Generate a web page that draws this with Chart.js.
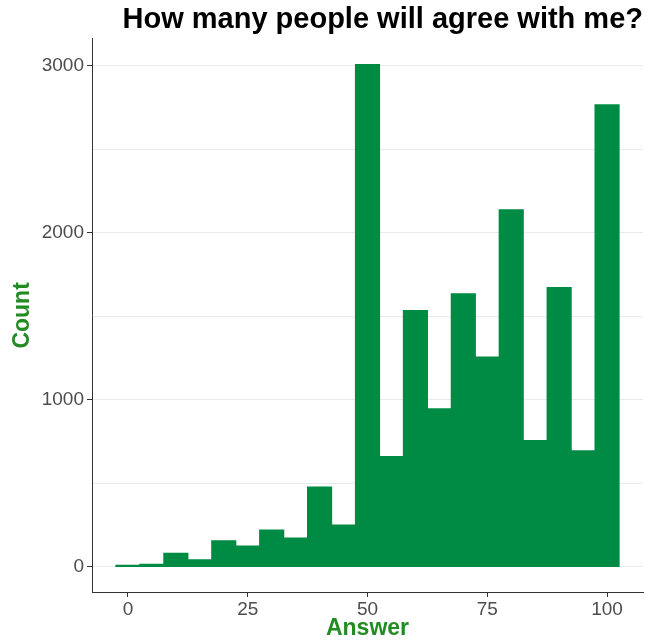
<!DOCTYPE html>
<html>
<head>
<meta charset="utf-8">
<script src="https://cdn.jsdelivr.net/npm/chart.js@4"></script>
<style>
html,body{margin:0;padding:0;background:#fff;}
#wrap{width:650px;height:642px;}
</style>
</head>
<body>
<div id="wrap"><canvas id="c" width="650" height="642"></canvas></div>
<script>
const binCenters = [0,5,10,15,20,25,30,35,40,45,50,55,60,65,70,75,80,85,90,95,100];
const counts = [10,16,82,42,156,124,220,172,478,250,3005,660,1533,946,1634,1255,2137,756,1671,694,2765];
const xTicks = [0,25,50,75,100];
const yTicks = [0,500,1000,1500,2000,2500,3000];
const yLabelTicks = [0,1000,2000,3000];

const FONT = "'Liberation Sans', Arial, sans-serif";
const points = binCenters.map((x,i)=>({x:x,y:counts[i]}));

new Chart(document.getElementById('c'), {
  type: 'bar',
  data: {
    datasets: [{
      data: points,
      backgroundColor: '#008B45',
      borderWidth: 0,
      inflateAmount: 0.6,
      barPercentage: 1.0,
      categoryPercentage: 1.0
    }]
  },
  options: {
    responsive: false,
    animation: false,
    layout: { padding: { left: 0, right: 7, top: 0, bottom: 0 } },
    plugins: {
      legend: { display: false },
      tooltip: { enabled: false },
      title: {
        display: true,
        text: 'How many people will agree with me?',
        align: 'end',
        color: '#000',
        font: { family: FONT, size: 29, weight: 'bold' },
        padding: { top: 3, bottom: 1 }
      }
    },
    scales: {
      x: {
        type: 'linear',
        offset: false,
        min: -7.5,
        max: 107.5,
        afterBuildTicks: s => { s.ticks = xTicks.map(v=>({value:v})); },
        afterFit: s => { s.height = 50; },
        ticks: { color: '#4D4D4D', font: { family: FONT, size: 19 }, padding: 1, maxRotation: 0 },
        grid: { offset: false, drawOnChartArea: false, drawTicks: true, tickLength: 5, tickColor: '#333333', tickWidth: 1 },
        border: { display: true, color: '#333333', width: 1 },
        title: { display: true, text: 'Answer', color: '#228B22', font: { family: FONT, size: 23, weight: 'bold' }, padding: { top: 0, bottom: 0 } }
      },
      y: {
        type: 'linear',
        min: -150,
        max: 3160,
        afterBuildTicks: s => { s.ticks = yTicks.map(v=>({value:v})); },
        afterFit: s => { s.width = 92; },
        ticks: {
          color: '#4D4D4D', font: { family: FONT, size: 19 }, padding: 3,
          callback: v => yLabelTicks.includes(v) ? String(v) : ''
        },
        grid: {
          color: '#EBEBEB', lineWidth: 1, drawTicks: true, tickLength: 5,
          tickColor: ctx => (ctx.tick && yLabelTicks.includes(ctx.tick.value)) ? '#333333' : 'rgba(0,0,0,0)'
        },
        border: { display: true, color: '#333333', width: 1 },
        title: { display: true, text: 'Count', color: '#228B22', font: { family: FONT, size: 23, weight: 'bold' }, padding: { top: 9, bottom: 0 } }
      }
    }
  }
});
</script>
</body>
</html>
